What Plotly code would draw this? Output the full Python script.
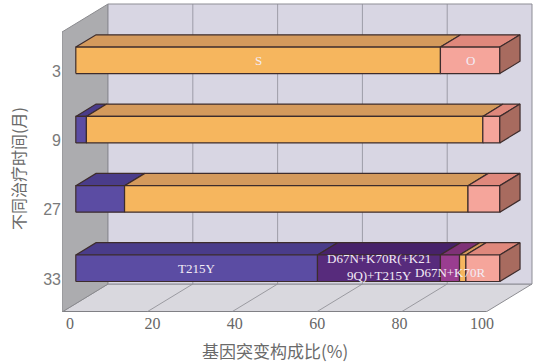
import plotly.graph_objects as go

# ---------------- data ----------------
rows = ["3", "9", "27", "33"]                     # 不同治疗时间(月), top to bottom
t215y = [0, 2.5, 11.5, 57]                        # T215Y
mixed = [0, 0, 0, 29]                             # D67N+K70R(+K219Q)+T215Y
d67n = [0, 0, 0, 4.5]                             # D67N+K70R
s_vals = [86, 93.5, 81, 1.5]                      # S
o_vals = [14, 4, 7.5, 8]                          # O
x_ticks = [0, 20, 40, 60, 80, 100]

series = [
    ("T215Y", t215y, "#5b4ca3", "#4a3c8a", "#3f3274"),
    ("D67N+K70R(+K219Q)+T215Y", mixed, "#572b7c", "#47226a", "#3a1c57"),
    ("D67N+K70R", d67n, "#9a3d90", "#7f3277", "#6a2a63"),
    ("S", s_vals, "#f6b65e", "#d49a5c", "#a8784a"),
    ("O", o_vals, "#f5a59b", "#df887c", "#a86b5f"),
]

# ---------------- pseudo-3D projection ----------------
X0, SV, KX, KY = -1.94, 1.029, 11.17, 28.0
WALL_H = 280.0
ZF, ZB = 0.30, 0.74          # bar front / back depth
ROW_TOP_BASE, ROW_STEP, BAR_H = 230.0, 69.3, 26.5
OUTLINE = "#3d2c2c"


def P(v, z, y):
    return X0 + SV * v + KX * z, y + KY * z


fig = go.Figure()


def poly(pts, fill, line_color, lw=1.2):
    xs = [p[0] for p in pts] + [pts[0][0]]
    ys = [p[1] for p in pts] + [pts[0][1]]
    fig.add_trace(go.Scatter(x=xs, y=ys, mode="lines", fill="toself",
                             fillcolor=fill, line=dict(color=line_color, width=lw),
                             hoverinfo="skip", showlegend=False))


def line(pts, color, lw=1.0):
    fig.add_trace(go.Scatter(x=[p[0] for p in pts], y=[p[1] for p in pts], mode="lines",
                             line=dict(color=color, width=lw), hoverinfo="skip",
                             showlegend=False))


# floor
poly([P(0, 0, 0), P(100, 0, 0), P(100, 1, 0), P(0, 1, 0)], "#d9d8de", "#8d8d92", 1.0)
line([P(0, 0, 0), P(100, 0, 0)], "#6f6f74", 1.5)
for v in x_ticks[1:-1]:
    line([P(v, 0, 0), P(v, 1, 0)], "#8a8a90", 0.8)
# left wall
poly([P(0, 0, 0), P(0, 1, 0), P(0, 1, WALL_H), P(0, 0, WALL_H)], "#acacaf", "#8a8a8e", 1.0)
# back wall
poly([P(0, 1, 0), P(100, 1, 0), P(100, 1, WALL_H), P(0, 1, WALL_H)], "#d8d6e3", "#8d8d95", 1.0)
for v in x_ticks[1:-1]:
    line([P(v, 1, 0), P(v, 1, WALL_H)], "#8e8e98", 0.8)

# bars
row_base = [ROW_TOP_BASE - ROW_STEP * k for k in range(len(rows))]
annots = []
for k, base in enumerate(row_base):
    cum = 0.0
    segs = []
    for name, vals, front, top, side in series:
        val = vals[k]
        if val <= 0:
            continue
        segs.append((name, cum, cum + val, front, top, side))
        cum += val
    for name, a, b, front, top, side in segs:
        yb, yt = base, base + BAR_H
        poly([P(a, ZF, yt), P(b, ZF, yt), P(b, ZB, yt), P(a, ZB, yt)], top, OUTLINE)
        poly([P(a, ZF, yb), P(b, ZF, yb), P(b, ZF, yt), P(a, ZF, yt)], front, OUTLINE)
    name, a, b, front, top, side = segs[-1]
    poly([P(b, ZF, base), P(b, ZB, base), P(b, ZB, base + BAR_H), P(b, ZF, base + BAR_H)],
         side, OUTLINE)
    seg_map = {s[0]: s for s in segs}
    labels = []
    if rows[k] == "3":
        labels = [("S", "S", 0), ("O", "O", 0)]
    if rows[k] == "33":
        labels = [("T215Y", "T215Y", 0),
                  ("D67N+K70R(+K219Q)+T215Y", "D67N+K70R(+K21<br>9Q)+T215Y", 1),
                  ("D67N+K70R", "D67N+K70R", -4)]
    for sname, text, ysh in labels:
        _, a, b, *_ = seg_map[sname]
        cx, cy = P((a + b) / 2, ZF, base + BAR_H / 2)
        annots.append(dict(x=cx, y=cy, text=text, showarrow=False, yshift=ysh,
                           font=dict(family="Liberation Serif", size=13, color="#f3ecf6")))

annots.append(dict(x=(275 - 70) / 4.12, y=-0.122, xref="x", yref="paper",
                   xanchor="center", yanchor="middle",
                   text="基因突变构成比(%)", showarrow=False,
                   font=dict(family="Noto Sans CJK SC", size=17, color="#6a6a6a")))
annots.append(dict(x=-0.093, y=144, xref="paper", yref="y", text="不同治疗时间(月)",
                   xanchor="center", yanchor="middle",
                   textangle=-90, showarrow=False,
                   font=dict(family="Noto Sans CJK SC", size=16, color="#6a6a6a")))

fig.update_layout(
    width=542, height=362,
    margin=dict(l=62, r=6, t=0, b=50),
    paper_bgcolor="white", plot_bgcolor="white",
    showlegend=False,
    annotations=annots,
    xaxis=dict(range=[-1.94, 113.1], tickvals=x_ticks, showgrid=False, zeroline=False,
               showline=False, ticks="", fixedrange=True,
               tickfont=dict(family="Liberation Serif", size=16, color="#666666")),
    yaxis=dict(range=[0, 312], tickvals=[b + 11 for b in row_base], ticktext=rows,
               showgrid=False, zeroline=False, showline=False, ticks="", fixedrange=True,
               tickfont=dict(family="Liberation Sans", size=16, color="#7a7a7a")),
)

fig.write_html("out.html")
